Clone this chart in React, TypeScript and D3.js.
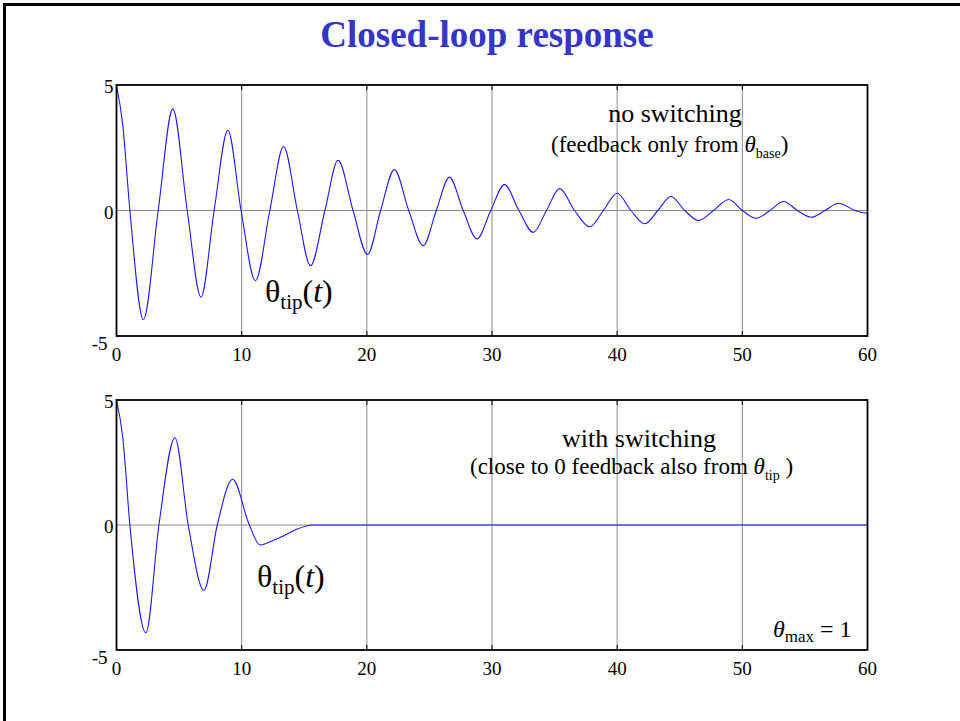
import React from 'react';
import * as d3 from 'd3';

const TITLE = 'Closed-loop response';
const xTicks = [0, 10, 20, 30, 40, 50, 60];
const yTicks = [-5, 0, 5];

// no switching (feedback only from theta_base): extrema and zero crossings
const noSwitchT = [0, 0.5, 1.07, 2.15, 3.33, 4.5, 5.65, 6.75, 7.8, 8.9, 9.95, 11.1, 12.25, 13.35, 14.45, 15.5, 16.65, 17.7, 18.9, 20.05, 21.1, 22.2, 23.35, 24.5, 25.55, 26.6, 27.7, 28.8, 29.9, 31.0, 32.15, 33.3, 34.35, 35.4, 36.6, 37.8, 38.9, 40.0, 41.1, 42.2, 43.25, 44.3, 45.4, 46.5, 47.7, 48.9, 50.0, 51.1, 52.2, 53.3, 54.4, 55.5, 56.6, 57.7, 59.0, 60];
const noSwitchV = [5, 3.4, 0, -4.35, 0, 4.05, 0, -3.45, 0, 3.2, 0, -2.8, 0, 2.55, 0, -2.2, 0, 2.0, 0, -1.75, 0, 1.63, 0, -1.4, 0, 1.33, 0, -1.13, 0, 1.03, 0, -0.87, 0, 0.87, 0, -0.65, 0, 0.69, 0, -0.53, 0, 0.56, 0, -0.4, 0, 0.44, 0, -0.31, 0, 0.36, 0, -0.27, 0, 0.29, 0, -0.12];

// with switching (close to 0 feedback also from theta_tip)
const withSwitchT = [0, 0.5, 1.07, 2.35, 3.39, 4.67, 5.73, 6.99, 8.05, 9.28, 10.61, 11.47, 12.5, 13.33, 14.4, 15.73, 60];
const withSwitchV = [5, 3.5, 0, -4.31, 0, 3.49, 0, -2.61, 0, 1.83, 0, -0.8, -0.62, -0.44, -0.17, 0, 0];

const SERIF = '"Liberation Serif", "Times New Roman", Times, serif';

type PanelProps = {
  top: number;
  bottom: number;
  t: number[];
  v: number[];
  children?: React.ReactNode;
};

const LEFT = 116.5;
const RIGHT = 867.5;

function Panel({ top, bottom, t, v, children }: PanelProps) {
  const x = d3.scaleLinear().domain([0, 60]).range([LEFT, RIGHT]);
  const y = d3.scaleLinear().domain([-5, 5]).range([bottom, top]);
  const pts: [number, number][] = t.map((ti, i) => [ti, v[i]]);
  const line = d3
    .line<[number, number]>()
    .x((d) => x(d[0]))
    .y((d) => y(d[1]))
    .curve(d3.curveMonotoneX);
  const grid = '#8a8a8a';
  return (
    <g>
      {xTicks.slice(1, -1).map((tk) => (
        <g key={'gx' + tk}>
          <line x1={x(tk)} x2={x(tk)} y1={top} y2={bottom} stroke={grid} strokeWidth={1} />
          <line x1={x(tk)} x2={x(tk)} y1={bottom} y2={bottom - 5} stroke="#000" strokeWidth={1} />
          <line x1={x(tk)} x2={x(tk)} y1={top} y2={top + 5} stroke="#000" strokeWidth={1} />
        </g>
      ))}
      {yTicks.slice(1, -1).map((tk) => (
        <line key={'gy' + tk} x1={LEFT} x2={RIGHT} y1={y(tk)} y2={y(tk)} stroke={grid} strokeWidth={1} />
      ))}
      <path d={line(pts) || ''} fill="none" stroke="#1a1aff" strokeWidth={1.1} />
      <rect x={LEFT} y={top} width={RIGHT - LEFT} height={bottom - top} fill="none" stroke="#000" strokeWidth={1.8} />
      {yTicks.map((tk, i) => (
        <text
          key={'yl' + tk}
          x={i === 0 ? LEFT - 9 : LEFT - 3}
          y={y(tk) + (i === 0 ? 14 : 8)}
          textAnchor="end"
          fontFamily={SERIF}
          fontSize={19}
        >
          {tk}
        </text>
      ))}
      {xTicks.map((tk) => (
        <text key={'xl' + tk} x={x(tk)} y={bottom + 24.5} textAnchor="middle" fontFamily={SERIF} fontSize={19}>
          {tk}
        </text>
      ))}
      {children}
    </g>
  );
}

export default function App() {
  return (
    <svg
      width={960}
      height={721}
      style={{ position: 'absolute', left: 0, top: 0, background: '#fff' }}
      fontFamily={SERIF}
    >
      <rect x={0} y={0} width={960} height={721} fill="#fff" />
      <rect x={4.5} y={4.5} width={970} height={740} fill="none" stroke="#000" strokeWidth={3} />
      <text x={487} y={47} textAnchor="middle" fontFamily={SERIF} fontWeight="bold" fontSize={37} fill="#3535c8">
        {TITLE}
      </text>

      <Panel top={85} bottom={336} t={noSwitchT} v={noSwitchV}>
        <text x={675} y={122} textAnchor="middle" fontSize={26}>no switching</text>
        <text x={551} y={152} fontSize={23}>
          (feedback only from <tspan fontStyle="italic">θ</tspan>
          <tspan fontSize={14} dy={6}>base</tspan>
          <tspan dy={-6}>)</tspan>
        </text>
        <text x={265} y={302} fontSize={32}>
          θ<tspan fontSize={21} dy={7}>tip</tspan>
          <tspan dy={-7}>(</tspan>
          <tspan fontStyle="italic">t</tspan>)
        </text>
      </Panel>

      <Panel top={400} bottom={650} t={withSwitchT} v={withSwitchV}>
        <text x={639} y={447} textAnchor="middle" fontSize={26}>with switching</text>
        <text x={470} y={474} fontSize={23}>
          (close to 0 feedback also from <tspan fontStyle="italic">θ</tspan>
          <tspan fontSize={14} dy={6}>tip</tspan>
          <tspan dy={-6}> )</tspan>
        </text>
        <text x={257} y={587} fontSize={32}>
          θ<tspan fontSize={21} dy={7}>tip</tspan>
          <tspan dy={-7}>(</tspan>
          <tspan fontStyle="italic">t</tspan>)
        </text>
        <text x={773} y={637} fontSize={24}>
          <tspan fontStyle="italic">θ</tspan>
          <tspan fontSize={17} dy={5}>max</tspan>
          <tspan dy={-5}> = 1</tspan>
        </text>
      </Panel>
    </svg>
  );
}
